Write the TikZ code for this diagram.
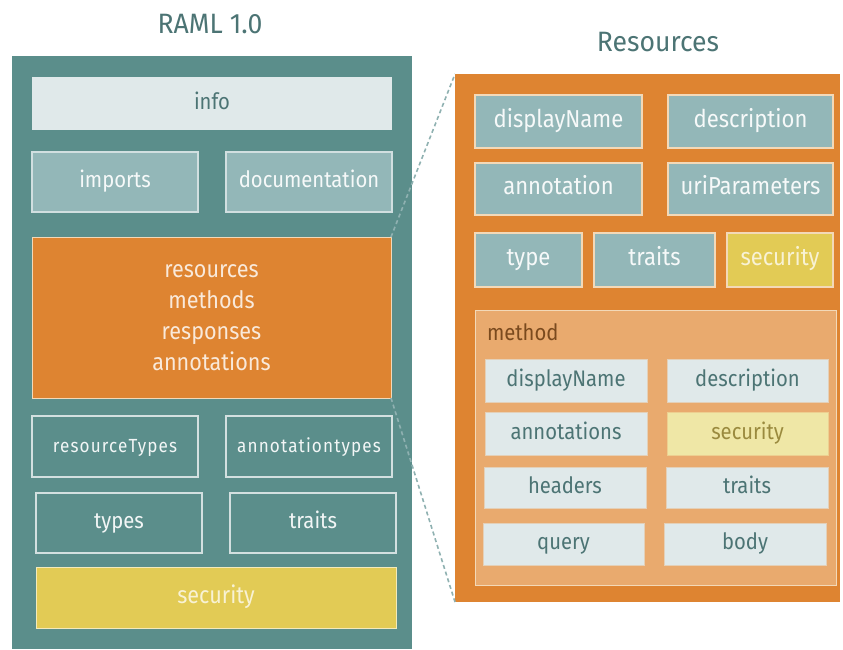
\documentclass[tikz,border=0pt]{standalone}
\usepackage{fontspec}
\setmainfont{Fira Sans}[FakeStretch=0.90]
\newfontfamily\titlefont{Fira Sans}[FakeStretch=0.95]
\newfontfamily\spacedfont{Fira Sans}[FakeStretch=0.90, LetterSpace=6]
\definecolor{tealdark}{HTML}{5B8E8B}
\definecolor{tealmid}{HTML}{93B7B8}
\definecolor{tealpale}{HTML}{E0E9EA}
\definecolor{tealtext}{HTML}{4C7474}
\definecolor{orng}{HTML}{DE8431}
\definecolor{orngpale}{HTML}{E9AA6E}
\definecolor{creamline}{HTML}{F3D9B8}
\definecolor{yell}{HTML}{E2CB55}
\definecolor{yellpale}{HTML}{EFE7A6}
\definecolor{yelltext}{HTML}{9A8A3E}
\definecolor{brwn}{HTML}{7A4A1E}
\definecolor{dashgray}{HTML}{8FB1B1}
\tikzset{
  x=1pt, y=-1pt,
  every node/.style={inner sep=0pt, outer sep=0pt, align=center},
  oneline/.style={text height=16pt, text depth=5pt},
  ttl/.style={text=tealtext, font=\titlefont\fontsize{28}{30}\selectfont},
  panel/.style={fill=tealdark},
  infobox/.style={oneline, fill=tealpale, text=tealtext, font=\fontsize{22.5}{24}\selectfont},
  midbox/.style={oneline, fill=tealmid, draw=tealpale!80!tealmid, line width=1.2pt, text=white!92!tealmid, font=\fontsize{22.5}{24}\selectfont},
  outbox/.style={oneline, fill=tealdark, draw=tealpale!90!tealdark, line width=1.5pt, text=white!92!tealdark},
  resbox/.style={fill=orng, draw=creamline, line width=0.8pt, text=white!82!orng, font=\fontsize{24}{31}\selectfont},
  secbox/.style={oneline, fill=yell, draw=white!60!yell, line width=1pt, text=white!75!yell, font=\fontsize{24}{26}\selectfont},
  rpanel/.style={fill=orng},
  rbox/.style={oneline, fill=tealmid, draw=creamline, line width=1.2pt, text=white!92!tealmid, font=\fontsize{24.5}{26}\selectfont},
  rsec/.style={oneline, fill=yell, draw=creamline, line width=1.2pt, text=white!75!yell, font=\fontsize{24.5}{26}\selectfont},
  methpanel/.style={fill=orngpale, draw=creamline, line width=1pt},
  mbox/.style={oneline, fill=tealpale, draw=tealpale!60!orngpale, line width=0.6pt, text=tealtext, font=\fontsize{22.5}{24}\selectfont},
  msec/.style={oneline, fill=yellpale, draw=yellpale!60!orngpale, line width=0.6pt, text=yelltext, font=\fontsize{22.5}{24}\selectfont},
  zoomline/.style={draw=dashgray, line width=1.6pt, dash pattern=on 4pt off 3pt},
}
\begin{document}
\begin{tikzpicture}
\useasboundingbox (0,0) rectangle (843,649);

% ---- RAML 1.0 document ----
\node[ttl] (ramltitle) at (210,24) {RAML 1.0};
\node[panel, minimum width=400pt, minimum height=593pt] (raml) at (212,352.5) {};
\node[infobox, minimum width=360pt, minimum height=53pt] (info) at (212,103.5) {info};
\node[midbox, minimum width=166pt, minimum height=60pt] (imports) at (115,182) {imports};
\node[midbox, minimum width=166pt, minimum height=60pt] (documentation) at (309,182) {documentation};
\node[resbox, minimum width=359pt, minimum height=161pt] (res) at (211.5,317.5) {resources\\methods\\responses\\annotations};
\node[outbox, minimum width=166pt, minimum height=61pt, font=\spacedfont\fontsize{19}{21}\selectfont] (resourceTypes) at (115,446.5) {resourceTypes};
\node[outbox, minimum width=166pt, minimum height=61pt, font=\spacedfont\fontsize{19}{21}\selectfont] (annotationtypes) at (309,446.5) {annotationtypes};
\node[outbox, minimum width=166pt, minimum height=60pt, font=\fontsize{22.5}{24}\selectfont] (types) at (119,523) {types};
\node[outbox, minimum width=166pt, minimum height=60pt, font=\fontsize{22.5}{24}\selectfont] (traits) at (313,523) {traits};
\node[secbox, minimum width=360pt, minimum height=61pt] (security) at (216,597.5) {security};

% ---- Resources detail ----
\node[ttl] (restitle) at (658,42) {Resources};
\node[rpanel, minimum width=385pt, minimum height=528pt] (rp) at (647.5,338) {};
\node[rbox, minimum width=167pt, minimum height=53pt] (rdisplay) at (558.5,121.5) {displayName};
\node[rbox, minimum width=165pt, minimum height=53pt] (rdesc) at (750.5,121.5) {description};
\node[rbox, minimum width=167pt, minimum height=52pt] (rannot) at (558.5,189) {annotation};
\node[rbox, minimum width=165pt, minimum height=52pt] (ruri) at (750.5,189) {uriParameters};
\node[rbox, minimum width=107pt, minimum height=54pt] (rtype) at (528.5,260) {type};
\node[rbox, minimum width=121pt, minimum height=54pt] (rtraits) at (654.5,260) {traits};
\node[rsec, minimum width=106pt, minimum height=54pt] (rsec) at (780,260) {security};

% method block
\node[methpanel, minimum width=361pt, minimum height=275pt] (meth) at (655.5,447.5) {};
\node[oneline, anchor=west, text=brwn, font=\fontsize{22.5}{24}\selectfont] (methlabel) at (487,335) {method};
\node[mbox, minimum width=162pt, minimum height=43pt] (mdisplay) at (566,380.5) {displayName};
\node[mbox, minimum width=161pt, minimum height=43pt] (mdesc) at (747.5,380.5) {description};
\node[mbox, minimum width=162pt, minimum height=43pt] (mannot) at (566,433.5) {annotations};
\node[msec, minimum width=161pt, minimum height=43pt] (msecurity) at (747.5,433.5) {security};
\node[mbox, minimum width=162pt, minimum height=41pt] (mheaders) at (565,487.5) {headers};
\node[mbox, minimum width=162pt, minimum height=41pt] (mtraits) at (747,487.5) {traits};
\node[mbox, minimum width=161pt, minimum height=42pt] (mquery) at (563.5,544) {query};
\node[mbox, minimum width=162pt, minimum height=42pt] (mbody) at (745,544) {body};

% zoom lines from the resources block to its detail
\draw[zoomline] (res.north east) -- (rp.north west);
\draw[zoomline] (res.south east) -- (rp.south west);
\end{tikzpicture}
\end{document}
